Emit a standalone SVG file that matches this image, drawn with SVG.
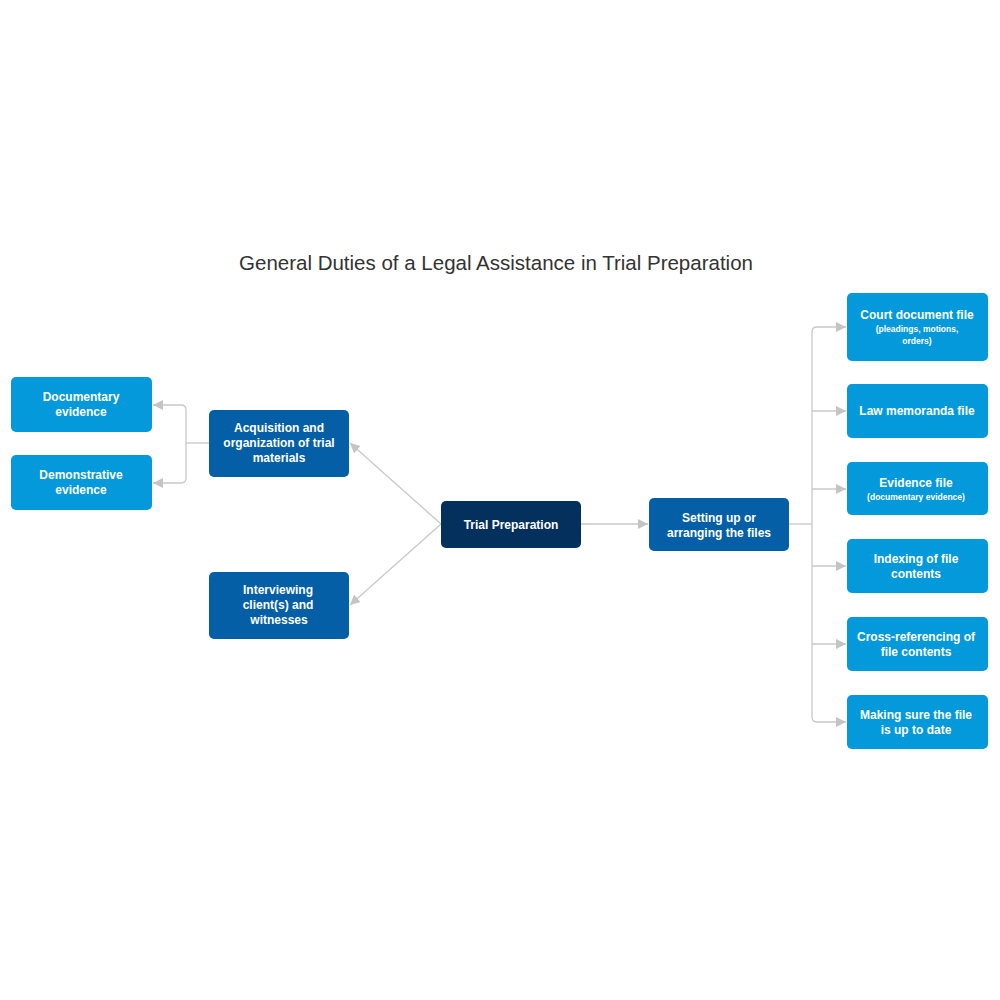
<svg xmlns="http://www.w3.org/2000/svg" width="1000" height="1000" viewBox="0 0 1000 1000">
<defs>
<marker id="arr" viewBox="0 0 10 10" refX="10" refY="5" markerWidth="10" markerHeight="10" markerUnits="userSpaceOnUse" orient="auto">
<path d="M0,0 L10,5 L0,10 z" fill="#c4c4c4"/>
</marker>
<style>
.n1{fill:#0499db;}
.n2{fill:#045fa6;}
.n3{fill:#03305c;}
.t{font-family:"Liberation Sans",Arial,sans-serif;font-size:12px;font-weight:bold;fill:#fff;text-anchor:middle;}
.s{font-family:"Liberation Sans",Arial,sans-serif;font-size:8.5px;font-weight:bold;fill:#fff;text-anchor:middle;}
.c{fill:none;stroke:#c8c8c8;stroke-width:1.3;}
</style>
</defs>
<rect width="1000" height="1000" fill="#fff"/>
<text x="496" y="270" font-family="Liberation Sans,Arial,sans-serif" font-size="20.5" fill="#333" text-anchor="middle">General Duties of a Legal Assistance in Trial Preparation</text>
<g id="connectors">
<path class="c" d="M441,524 L350,443" marker-end="url(#arr)"/>
<path class="c" d="M441,524 L350,605" marker-end="url(#arr)"/>
<path class="c" d="M581,524 L648,524" marker-end="url(#arr)"/>
<path class="c" d="M209,443 L186,443"/>
<path class="c" d="M186,443 L186,410 Q186,405 181,405 L153,405" marker-end="url(#arr)"/>
<path class="c" d="M186,443 L186,478 Q186,483 181,483 L153,483" marker-end="url(#arr)"/>
<path class="c" d="M789,524 L812,524"/>
<path class="c" d="M812,524 L812,332 Q812,327 817,327 L846,327" marker-end="url(#arr)"/>
<path class="c" d="M812,524 L812,717 Q812,722 817,722 L846,722" marker-end="url(#arr)"/>
<path class="c" d="M812,411 L846,411" marker-end="url(#arr)"/>
<path class="c" d="M812,489 L846,489" marker-end="url(#arr)"/>
<path class="c" d="M812,566 L846,566" marker-end="url(#arr)"/>
<path class="c" d="M812,644 L846,644" marker-end="url(#arr)"/>
</g>
<g id="documentary">
<rect class="n1" x="11" y="377" width="141" height="55" rx="5"/>
<text class="t" x="81" y="401">Documentary</text>
<text class="t" x="81" y="416">evidence</text>
</g>
<g id="demonstrative">
<rect class="n1" x="11" y="455" width="141" height="55" rx="5"/>
<text class="t" x="81" y="479">Demonstrative</text>
<text class="t" x="81" y="494">evidence</text>
</g>
<g id="acquisition">
<rect class="n2" x="209" y="410" width="140" height="67" rx="5"/>
<text class="t" x="279" y="432">Acquisition and</text>
<text class="t" x="279" y="447">organization of trial</text>
<text class="t" x="279" y="462">materials</text>
</g>
<g id="interviewing">
<rect class="n2" x="209" y="572" width="140" height="67" rx="5"/>
<text class="t" x="278" y="594">Interviewing</text>
<text class="t" x="278" y="609">client(s) and</text>
<text class="t" x="279" y="624">witnesses</text>
</g>
<g id="trial">
<rect class="n3" x="441" y="501" width="140" height="47" rx="5"/>
<text class="t" x="511" y="529">Trial Preparation</text>
</g>
<g id="setting">
<rect class="n2" x="649" y="498" width="140" height="53" rx="5"/>
<text class="t" x="719" y="522">Setting up or</text>
<text class="t" x="719" y="537">arranging the files</text>
</g>
<g id="court">
<rect class="n1" x="847" y="293" width="141" height="68" rx="5"/>
<text class="t" x="917" y="319">Court document file</text>
<text class="s" x="917" y="332">(pleadings, motions,</text>
<text class="s" x="917" y="344">orders)</text>
</g>
<g id="law">
<rect class="n1" x="847" y="384" width="141" height="54" rx="5"/>
<text class="t" x="917" y="415">Law memoranda file</text>
</g>
<g id="evidence">
<rect class="n1" x="847" y="462" width="141" height="53" rx="5"/>
<text class="t" x="916" y="487">Evidence file</text>
<text class="s" x="916" y="500">(documentary evidence)</text>
</g>
<g id="indexing">
<rect class="n1" x="847" y="539" width="141" height="54" rx="5"/>
<text class="t" x="916" y="563">Indexing of file</text>
<text class="t" x="916" y="578">contents</text>
</g>
<g id="cross">
<rect class="n1" x="847" y="617" width="141" height="54" rx="5"/>
<text class="t" x="916" y="641">Cross-referencing of</text>
<text class="t" x="916" y="656">file contents</text>
</g>
<g id="making">
<rect class="n1" x="847" y="695" width="141" height="54" rx="5"/>
<text class="t" x="916" y="719">Making sure the file</text>
<text class="t" x="916" y="734">is up to date</text>
</g>
</svg>
